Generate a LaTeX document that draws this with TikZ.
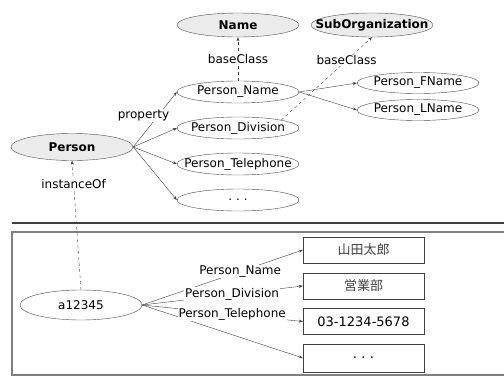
\documentclass[tikz,border=0pt]{standalone}
\usepackage{fontspec}
\setmainfont{DejaVu Sans}
\newfontfamily\jpfont{Noto Sans CJK JP}
\usetikzlibrary{shapes.geometric,arrows.meta}
\newcommand{\ztext}[1]{\makebox[0pt]{#1}}

\begin{document}
\begin{tikzpicture}[x=1pt,y=-1pt,
  font=\fontsize{12}{14}\selectfont,
  oval/.style={ellipse, draw=black!70, fill=white, inner sep=0pt, minimum width=122pt, minimum height=22pt},
  cls/.style={oval, fill=black!8, minimum height=24pt, font=\fontsize{12}{14}\selectfont\bfseries},
  val/.style={rectangle, draw=black!75, minimum width=121pt, minimum height=26pt, inner sep=0pt, font=\fontsize{13}{15}\selectfont},
  link/.style={draw=black!75, -{Stealth[length=4pt,width=3pt]}},
  base/.style={link, dashed},
  lbl/.style={fill=white, inner sep=1pt}]

\useasboundingbox (0,0) rectangle (504,378);

\draw[black!75, line width=2pt] (12,222.5) -- (512,222.5);
\draw[black!50, line width=1.2pt] (12,232) rectangle (520,375);

\node[cls] (name) at (238,25) {\ztext{Name}};
\node[cls] (suborg) at (372,25) {\ztext{SubOrganization}};
\node[cls, minimum height=27pt] (person) at (72,147) {\ztext{Person}};
\node[oval] (pname) at (238,92) {\ztext{Person\_Name}};
\node[oval] (pdiv) at (238,128) {\ztext{Person\_Division}};
\node[oval] (ptel) at (238,164) {\ztext{Person\_Telephone}};
\node[oval] (pmore) at (238,200) {\ztext{.\,\,.\,\,.}};
\node[oval, minimum height=21pt] (pfname) at (418,83) {\ztext{Person\_FName}};
\node[oval, minimum height=21pt] (plname) at (418,110) {\ztext{Person\_LName}};

\node[oval, minimum height=30pt] (inst) at (81,305) {\ztext{a12345}};
\node[val] (vname) at (363.5,250) {\jpfont\color{black!75}山田太郎};
\node[val] (vdiv) at (363.5,286) {\jpfont\color{black!75}営業部};
\node[val] (vtel) at (363.5,321.5) {03-1234-5678};
\node[val, minimum height=28pt] (vmore) at (363.5,358) {.\,\,.\,\,.};

\draw[base] (pname.north) -- node[lbl] {baseClass} (name.south);
\draw[base] (pdiv.north east) -- node[lbl, pos=0.72] {baseClass} (suborg.south);
\draw[link] (person.east) -- node[lbl, pos=0.58, xshift=-15pt] {property} (pname.west);
\foreach \n in {pdiv,ptel,pmore}
  \draw[link] (person.east) -- (\n.west);
\draw[link] (pname.east) -- (pfname.west);
\draw[link] (pname.east) -- (plname.west);
\draw[base] (inst.north) -- node[lbl, pos=0.82] {instanceOf} (person.south);

\draw[link] (inst.east) -- (vmore.west);
\draw[link] (inst.east) -- node[lbl, pos=0.61] {Person\_Name} (vname.west);
\draw[link] (inst.east) -- node[lbl, pos=0.56] {Person\_Division} (vdiv.west);
\draw[link] (inst.east) -- node[lbl, pos=0.56] {Person\_Telephone} (vtel.west);
\end{tikzpicture}
\end{document}
